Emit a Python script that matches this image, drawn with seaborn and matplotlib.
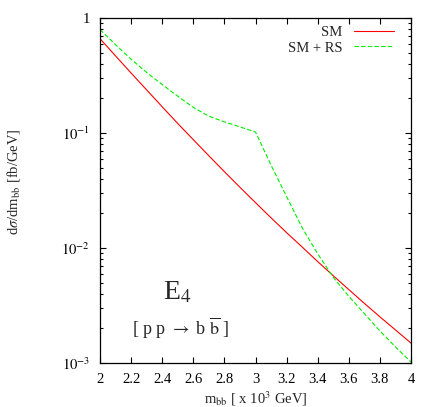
import numpy as np
import pandas as pd
import matplotlib
matplotlib.use("Agg")
import matplotlib.pyplot as plt
import matplotlib.ticker as mticker
from matplotlib.lines import Line2D
import seaborn as sns

# ---- data ----
mass = [2.0, 2.1, 2.2, 2.3, 2.4, 2.5, 2.6, 2.7, 2.8, 2.9, 3.0,
        3.1, 3.2, 3.3, 3.4, 3.5, 3.6, 3.7, 3.8, 3.9, 4.0]
sm = [0.661, 0.468, 0.332, 0.237, 0.169, 0.121, 0.0875, 0.0634, 0.0461, 0.0337, 0.0248,
      0.0183, 0.0136, 0.0102, 0.00762, 0.00574, 0.00435, 0.00330, 0.00252, 0.00194, 0.00149]
sm_rs = [0.794, 0.586, 0.438, 0.336, 0.264, 0.209, 0.167, 0.140, 0.125, 0.113, 0.102,
         0.0525, 0.0280, 0.0150, 0.0089, 0.00556, 0.0038, 0.00269, 0.0019, 0.00138, 0.00102]
series_names = ["SM", "SM + RS"]
x_ticks = [2.0, 2.2, 2.4, 2.6, 2.8, 3.0, 3.2, 3.4, 3.6, 3.8, 4.0]
x_tick_labels = ["2", "2.2", "2.4", "2.6", "2.8", "3", "3.2", "3.4", "3.6", "3.8", "4"]
y_ticks = [1e-3, 1e-2, 1e-1, 1]
y_tick_labels = [r"$10^{-3}$", r"$10^{-2}$", r"$10^{-1}$", "1"]

df = pd.DataFrame({
    "m": mass * 2,
    "sigma": sm + sm_rs,
    "series": [series_names[0]] * len(mass) + [series_names[1]] * len(mass),
})

sns.set_theme(style="ticks")
plt.rcParams["font.family"] = ["Liberation Serif", "DejaVu Serif"]
plt.rcParams["mathtext.fontset"] = "stix"

fig = plt.figure(figsize=(4.36, 4.07), dpi=100)
ax = fig.add_axes([100 / 436, 44 / 407, 311 / 436, 345 / 407])

palette = {"SM": "#ff0000", "SM + RS": "#00ee00"}
sns.lineplot(data=df, x="m", y="sigma", hue="series", style="series",
             palette=palette, dashes={"SM": "", "SM + RS": (4, 2)},
             linewidth=0.8, ax=ax, legend=False)

ax.set_yscale("log")
ax.set_xlim(2, 4)
ax.set_ylim(1e-3, 1)
ax.set_xticks(x_ticks)
ax.set_xticklabels(x_tick_labels)
ax.set_yticks(y_ticks)
ax.set_yticklabels(y_tick_labels)
ax.yaxis.set_minor_locator(mticker.LogLocator(base=10, subs=np.arange(2, 10)))
ax.yaxis.set_minor_formatter(mticker.NullFormatter())
ax.xaxis.set_minor_locator(mticker.NullLocator())

ax.tick_params(axis="both", which="both", direction="in", top=True, right=True,
               labelsize=10.5, colors="black")
ax.tick_params(which="major", length=4.5, width=0.8, pad=7)
ax.tick_params(which="minor", length=2.5, width=0.8)
for s in ax.spines.values():
    s.set_linewidth(0.9)
    s.set_color("black")

ax.set_xlabel("")
ax.set_ylabel("")
fig.text(255.5 / 436, 1 - 399 / 407, r"m$_{\rm bb}$ [ x 10$^3$ GeV]",
         ha="center", va="center", fontsize=10.5)
fig.text(14 / 436, 1 - 182 / 407, r"d$\sigma$/dm$_{\rm bb}$ [fb/GeV]",
         ha="center", va="center", rotation=90, fontsize=10.5)

ax.text(0.203, 0.183, r"E$_4$", transform=ax.transAxes, fontsize=20,
        ha="left", va="baseline")
ax.text(0.103, 0.101, r"[ p p $\rightarrow$ b $\overline{\rm b}$ ]",
        transform=ax.transAxes, fontsize=13, ha="left", va="center")

handles = [Line2D([], [], color=palette["SM"], lw=0.8),
           Line2D([], [], color=palette["SM + RS"], lw=0.8, dashes=(4, 2))]
ax.legend(handles, series_names, loc="upper right", frameon=False,
          markerfirst=False, fontsize=10.5, handlelength=2.75,
          bbox_to_anchor=(0.9646, 0.994), borderaxespad=0.0,
          labelspacing=0.15, handletextpad=0.8)

fig.savefig("out.png", dpi=100)
